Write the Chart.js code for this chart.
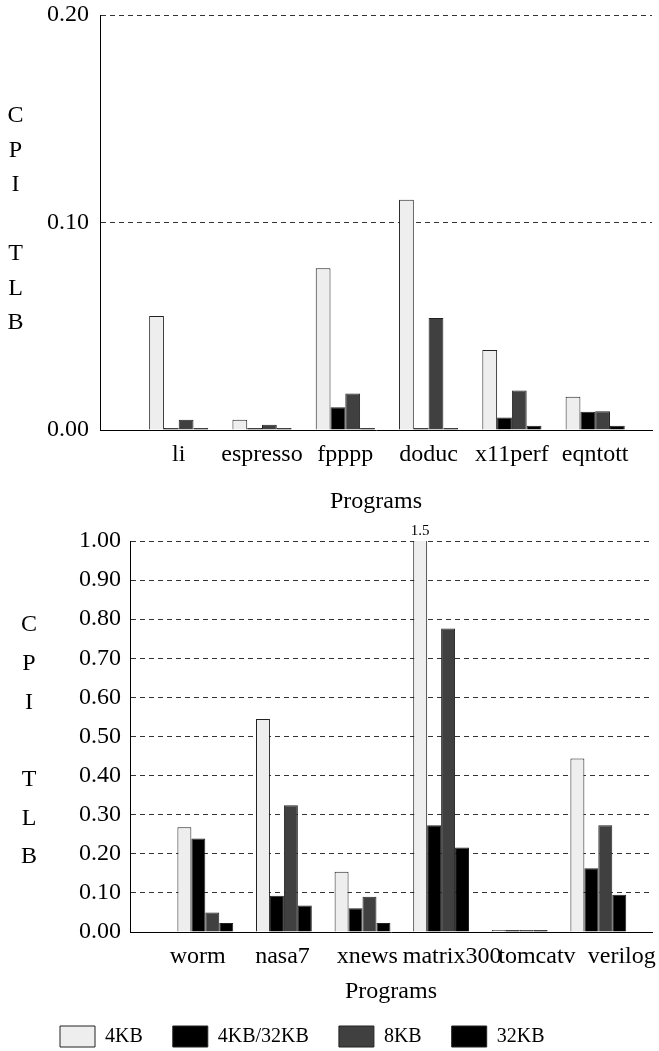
<!DOCTYPE html>
<html>
<head>
<meta charset="utf-8">
<script src="https://cdn.jsdelivr.net/npm/chart.js@4/dist/chart.umd.min.js"></script>
<style>
  html, body { margin: 0; padding: 0; background: #fff; overflow: hidden; }
  #topBox { position: absolute; left: 0; top: 0; width: 659px; height: 516px; }
  #bottomBox { position: absolute; left: 0; top: 516px; width: 659px; height: 541px; }
</style>
</head>
<body>
<div id="topBox"><canvas id="tlbTop"></canvas></div>
<div id="bottomBox"><canvas id="tlbBottom"></canvas></div>
<script>
const seriesNames  = ['4KB', '4KB/32KB', '8KB', '32KB'];
const seriesColors = ['#eeeeee', '#000000', '#404040', '#000000'];

// upper panel
const programsTop = ['li', 'espresso', 'fpppp', 'doduc', 'x11perf', 'eqntott'];
const top4KB      = [0.055, 0.005, 0.078, 0.111, 0.0385, 0.016];
const top4KB32KB  = [0.001, 0.001, 0.011, 0.001, 0.006, 0.0088];
const top8KB      = [0.005, 0.0025, 0.0176, 0.054, 0.019, 0.009];
const top32KB     = [0.001, 0.001, 0.001, 0.001, 0.002, 0.002];
const ticksTop    = [0, 0.10, 0.20];

// lower panel
const programsBottom = ['worm', 'nasa7', 'xnews', 'matrix300', 'tomcatv', 'verilog'];
const bottom4KB      = [0.268, 0.545, 0.154, 1.5, 0.005, 0.444];
const bottom4KB32KB  = [0.239, 0.093, 0.061, 0.273, 0.005, 0.163];
const bottom8KB      = [0.050, 0.324, 0.090, 0.776, 0.005, 0.273];
const bottom32KB     = [0.023, 0.068, 0.023, 0.216, 0.005, 0.095];
const ticksBottom    = [0, 0.10, 0.20, 0.30, 0.40, 0.50, 0.60, 0.70, 0.80, 0.90, 1.00];

Chart.defaults.font.family = '"Liberation Serif", "Times New Roman", serif';
Chart.defaults.font.size = 24;
Chart.defaults.color = '#000';

// letters of the y title stacked one under another
const stackedTitle = {
  id: 'stackedTitle',
  afterDraw(chart, args, opts) {
    const { ctx, chartArea } = chart;
    const chars = opts.text.split('');
    const mid = (chartArea.top + chartArea.bottom) / 2 + opts.shift;
    ctx.save();
    ctx.font = '24px "Liberation Serif"';
    ctx.fillStyle = '#000';
    ctx.textAlign = 'center';
    ctx.textBaseline = 'middle';
    chars.forEach((c, i) => {
      ctx.fillText(c, opts.x, mid + (i - (chars.length - 1) / 2) * opts.gap);
    });
    ctx.restore();
  }
};

// value written over bars that run past the top of the axis
const overflowLabels = {
  id: 'overflowLabels',
  afterDatasetsDraw(chart) {
    const { ctx, chartArea } = chart;
    const yMax = chart.scales.y.max;
    ctx.save();
    ctx.font = '15px "Liberation Serif"';
    ctx.fillStyle = '#000';
    ctx.textAlign = 'center';
    ctx.textBaseline = 'alphabetic';
    chart.data.datasets.forEach((ds, di) => {
      const meta = chart.getDatasetMeta(di);
      ds.data.forEach((pt, i) => {
        if (pt.y > yMax) ctx.fillText(String(pt.y), meta.data[i].x, chartArea.top - 6);
      });
    });
    ctx.restore();
  }
};

function makeDatasets(values) {
  return values.map((vals, s) => ({
    label: seriesNames[s],
    data: vals.map((v, i) => ({ x: i, y: v })),
    backgroundColor: seriesColors[s],
    borderColor: '#222',
    borderWidth: 1,
    borderSkipped: 'bottom',
    categoryPercentage: 0.71,
    barPercentage: 1.0
  }));
}

function noPadding(s) {
  s.paddingTop = 0;
  s.paddingBottom = 0;
  s.paddingLeft = 0;
  s.paddingRight = 0;
}

function makeConfig(p) {
  return {
    type: 'bar',
    data: { datasets: makeDatasets(p.values) },
    options: {
      responsive: true,
      maintainAspectRatio: false,
      animation: false,
      layout: { padding: p.padding },
      plugins: {
        legend: p.legend,
        tooltip: { enabled: false },
        stackedTitle: p.yTitle
      },
      scales: {
        x: {
          type: 'linear',
          display: false,
          offset: false,
          grid: { offset: false },
          min: p.barRange[0],
          max: p.barRange[1],
          afterBuildTicks: s => { s.ticks = p.programs.map((n, i) => ({ value: i })); },
          afterFit: noPadding
        },
        xl: {
          type: 'linear',
          position: 'bottom',
          offset: false,
          min: p.labelRange[0],
          max: p.labelRange[1],
          afterBuildTicks: s => { s.ticks = p.programs.map((n, i) => ({ value: i })); },
          afterFit: s => { noPadding(s); s.height = p.xHeight; },
          grid: { display: false, drawTicks: false, offset: false },
          border: { display: true, color: '#000', width: 1 },
          ticks: {
            autoSkip: false,
            maxRotation: 0,
            padding: 10,
            callback: v => p.programs[Math.round(v)]
          },
          title: {
            display: true,
            text: 'Programs',
            padding: { top: 0, bottom: p.titlePad }
          }
        },
        y: {
          min: 0,
          max: p.yMax,
          afterBuildTicks: s => { s.ticks = p.ticks.map(v => ({ value: v })); },
          afterFit: s => { noPadding(s); s.width = p.yWidth; },
          grid: { color: '#333', lineWidth: 1, drawTicks: false },
          border: { display: true, color: '#000', width: 1, dash: [5, 4] },
          ticks: {
            padding: p.yPad,
            callback: v => v.toFixed(2)
          }
        }
      }
    },
    plugins: [stackedTitle, overflowLabels]
  };
}

new Chart(document.getElementById('tlbTop'), makeConfig({
  programs: programsTop,
  values: [top4KB, top4KB32KB, top8KB, top32KB],
  ticks: ticksTop,
  yMax: 0.20,
  barRange: [-0.945, 5.682],
  labelRange: [-0.945, 5.682],
  padding: { top: 15, right: 7, left: 0, bottom: 0 },
  xHeight: 86,
  titlePad: 0,
  yWidth: 100,
  yPad: 11,
  yTitle: { text: 'CPI TLB', x: 15.5, gap: 34.5, shift: -3 },
  legend: { display: false }
}));

new Chart(document.getElementById('tlbBottom'), makeConfig({
  programs: programsBottom,
  values: [bottom4KB, bottom4KB32KB, bottom8KB, bottom32KB],
  ticks: ticksBottom,
  yMax: 1.00,
  barRange: [-0.958, 5.683],
  labelRange: [-0.798, 5.357],
  padding: { top: 25, right: 7, left: 30, bottom: 0 },
  xHeight: 64,
  titlePad: -10,
  yWidth: 100,
  yPad: 9,
  yTitle: { text: 'CPI TLB', x: 29, gap: 38.7, shift: 4.5 },
  legend: {
    display: true,
    position: 'bottom',
    align: 'start',
    labels: {
      boxWidth: 35,
      boxHeight: 21,
      padding: 30,
      font: { size: 20 }
    }
  }
}));
</script>
</body>
</html>
